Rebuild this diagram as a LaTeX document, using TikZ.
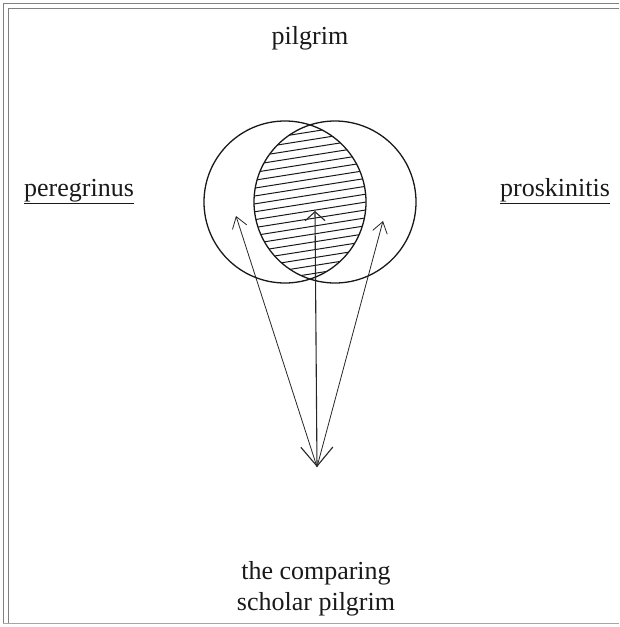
\documentclass[tikz,border=0pt]{standalone}
\usepackage{fontspec}
\setmainfont{Liberation Serif}
\usetikzlibrary{arrows.meta}
\begin{document}
\begin{tikzpicture}[x=1pt,y=-1pt,
    term/.style={font=\fontsize{26}{31}\selectfont, inner sep=0pt, text=black!90},
    ring/.style={draw=black!90, line width=1.3pt},
    ray/.style={draw=black!85, line width=0.8pt, -{Straight Barb[length=11pt,width=15pt]}}]
    \useasboundingbox (0,0) rectangle (619,627);

    % Define dimensions
    \def\rad{81pt}
    \def\spacing{7.8}

    % Double frame, open on the right
    \draw[gray, line width=0.8pt] (3,623) -- (3,3) -- (619,3);
    \draw[gray, line width=0.8pt] (8,623) -- (8,8) -- (619,8);
    \draw[gray!70, line width=0.8pt] (3,623) -- (619,623);

    % The two circles
    \coordinate (lc) at (285,202);
    \coordinate (rc) at (335,202);

    % Hatched overlap
    \begin{scope}
        \clip (lc) circle[radius=\rad];
        \clip (rc) circle[radius=\rad];
        \foreach \k in {-11,...,11}
            \draw[black!90, line width=1pt, rotate around={9:(310,202)}]
                (180,203+\k*\spacing) -- (440,203+\k*\spacing);
    \end{scope}
    \draw[ring] (lc) circle[radius=\rad];
    \draw[ring] (rc) circle[radius=\rad];

    % Labels
    \node[term] (top) at (310,38) {pilgrim};
    \node[term, anchor=base west] (lat) at (24,196) {\underline{peregrinus}};
    \node[term, anchor=base west] (gr) at (500,196) {\underline{proskinitis}};
    \node[term, align=center] (scholar) at (316,589) {the comparing\\scholar pilgrim};

    % Rays from the scholar
    \coordinate (base) at (317,467);
    \coordinate (lefttip) at (236,216);
    \coordinate (midtip) at (315,211);
    \coordinate (righttip) at (383,221);

    \draw[ray] (base) -- (lefttip);
    \draw[ray] (base) -- (righttip);
    \draw[ray, line width=1.1pt,
        {Straight Barb[length=19pt,width=32pt]}-{Straight Barb[length=9pt,width=20pt]}]
        (base) -- (midtip);
\end{tikzpicture}
\end{document}
